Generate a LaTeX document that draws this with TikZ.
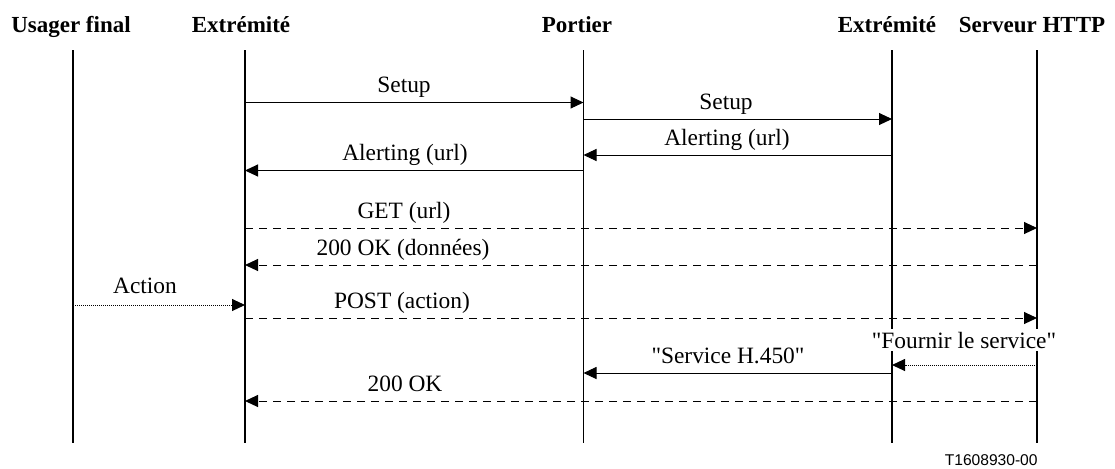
\documentclass[tikz,border=0pt]{standalone}
\usepackage{fontspec}
\setmainfont{Liberation Serif}
\newfontfamily\refsans{Liberation Sans}
\usetikzlibrary{arrows.meta}
\begin{document}
\begin{tikzpicture}[x=0.5pt,y=-0.5pt,
  hdr/.style={font=\fontsize{11.5}{13}\selectfont\bfseries, anchor=base, inner sep=0pt},
  lbl/.style={font=\fontsize{11.7}{13}\selectfont, anchor=base, inner sep=0pt},
  life/.style={line width=0.65pt},
  msg/.style={line width=0.5pt, -{Triangle[length=6.5pt,width=6pt]}},
  dsh/.style={msg, dash pattern=on 4pt off 3pt},
  dtd/.style={msg, dash pattern=on 0.5pt off 0.5pt}]
\useasboundingbox (0,0) rectangle (1115,468);

% headers
\node[hdr] (h1) at (71,32) {Usager final};
\node[hdr] (h2) at (241,32) {Extrémité};
\node[hdr] (h3) at (577,32) {Portier};
\node[hdr] (h4) at (887,32) {Extrémité};
\node[hdr] (h5) at (1032,32) {Serveur HTTP};

% lifelines
\foreach \i/\x in {1/73,2/245,3/583.5,4/892,5/1037}{
  \coordinate (t\i) at (\x,50);
  \coordinate (b\i) at (\x,443);
  \draw[life] (t\i) -- (b\i);
}

% 1 Setup
\coordinate (m1a) at (245,102.5); \coordinate (m1b) at (583.5,102.5);
\draw[msg] (m1a) -- (m1b);
\node[lbl] (l1) at (404,92.5) {Setup};
% 2 Setup
\coordinate (m2a) at (583.5,119); \coordinate (m2b) at (892,119);
\draw[msg] (m2a) -- (m2b);
\node[lbl] (l2) at (726,109) {Setup};
% 3 Alerting
\coordinate (m3a) at (892,155); \coordinate (m3b) at (583.5,155);
\draw[msg] (m3a) -- (m3b);
\node[lbl] (l3) at (727,145) {Alerting (url)};
% 4 Alerting
\coordinate (m4a) at (583.5,170.5); \coordinate (m4b) at (245,170.5);
\draw[msg] (m4a) -- (m4b);
\node[lbl] (l4) at (405,160.5) {Alerting (url)};
% 5 GET
\coordinate (m5a) at (245,228); \coordinate (m5b) at (1037,228);
\draw[dsh] (m5a) -- (m5b);
\node[lbl] (l5) at (404,218) {GET (url)};
% 6 200 OK (donnees)
\coordinate (m6a) at (1037,265); \coordinate (m6b) at (245,265);
\draw[dsh] (m6a) -- (m6b);
\node[lbl] (l6) at (403,255) {200 OK (données)};
% 7 Action
\coordinate (m7a) at (73,305); \coordinate (m7b) at (245,305);
\draw[dtd] (m7a) -- (m7b);
\node[lbl] (l7) at (145,293) {Action};
% 8 POST
\coordinate (m8a) at (245,318); \coordinate (m8b) at (1037,318);
\draw[dsh] (m8a) -- (m8b);
\node[lbl] (l8) at (402,308) {POST (action)};
% 9 Fournir le service
\coordinate (m9a) at (1037,365); \coordinate (m9b) at (892,365);
\draw[dtd] (m9a) -- (m9b);
\node[lbl, fill=white, inner sep=1.5pt] (l9) at (964,348) {\textquotedbl Fournir le service\textquotedbl};
% 10 Service H.450
\coordinate (m10a) at (892,373); \coordinate (m10b) at (583.5,373);
\draw[msg] (m10a) -- (m10b);
\node[lbl] (l10) at (728,363) {\textquotedbl Service H.450\textquotedbl};
% 11 200 OK
\coordinate (m11a) at (1037,401); \coordinate (m11b) at (245,401);
\draw[dsh] (m11a) -- (m11b);
\node[lbl] (l11) at (405,391) {200 OK};

% reference
\node[font=\refsans\fontsize{7.8}{9}\selectfont, anchor=base east, inner sep=0pt] (ref) at (1038,465) {T1608930-00};
\end{tikzpicture}
\end{document}
